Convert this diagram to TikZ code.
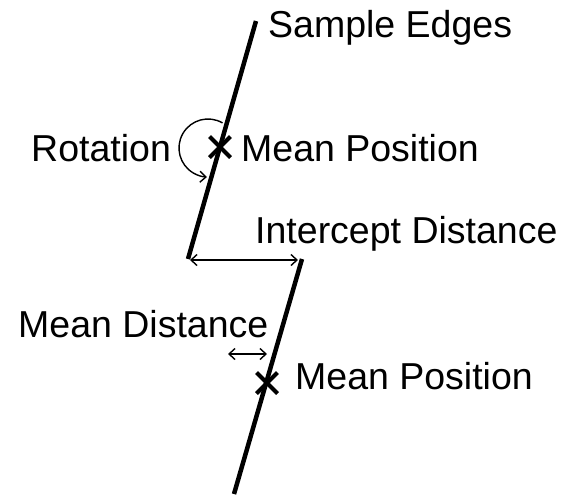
\documentclass[tikz,border=0pt]{standalone}
\usepackage{fontspec}
\setmainfont{Liberation Sans}
\usetikzlibrary{arrows.meta,shapes.misc}
\begin{document}
\begin{tikzpicture}[x=1pt,y=-1pt,
  edgeline/.style={line width=4.5pt,line cap=butt},
  meanmark/.style={cross out,draw,line width=4pt,minimum size=17pt,inner sep=0pt},
  dimarrow/.style={line width=1.4pt,{Straight Barb[length=6pt,width=11pt]}-{Straight Barb[length=6pt,width=11pt]}},
  rotarrow/.style={line width=1.4pt,-{Straight Barb[length=6pt,width=11pt]}},
  lbl/.style={font=\fontsize{37.5}{41}\selectfont,inner sep=0pt,anchor=base west}]
\useasboundingbox (0,0) rectangle (565,496);
% edge segments
\coordinate (t1) at (256,21);
\coordinate (b1) at (188,259);
\coordinate (t2) at (302,259);
\coordinate (b2) at (234,494);
\draw[edgeline] (t1) -- (b1);
\draw[edgeline] (t2) -- (b2);
% mean positions
\node[meanmark] (mp1) at (220,147) {};
\node[meanmark] (mp2) at (267,383) {};
% rotation arc
\coordinate (rc) at (208,148);
\draw[rotarrow] ([shift={(60:29pt)}]rc) arc[start angle=60,end angle=268,radius=29pt];
% intercept distance
\coordinate (ia) at (190,260);
\coordinate (ib) at (298,260);
\draw[dimarrow] (ia) -- (ib);
% mean distance
\coordinate (ma) at (228,354);
\coordinate (mb) at (267,354);
\draw[dimarrow] (ma) -- (mb);
% labels
\node[lbl] (se) at (268,37) {Sample Edges};
\node[lbl] (rot) at (31,161) {Rotation};
\node[lbl] (mpl1) at (241,161) {Mean Position};
\node[lbl] (idl) at (255,243) {Intercept Distance};
\node[lbl] (mdl) at (18,337) {Mean Distance};
\node[lbl] (mpl2) at (295,389) {Mean Position};
\end{tikzpicture}
\end{document}
